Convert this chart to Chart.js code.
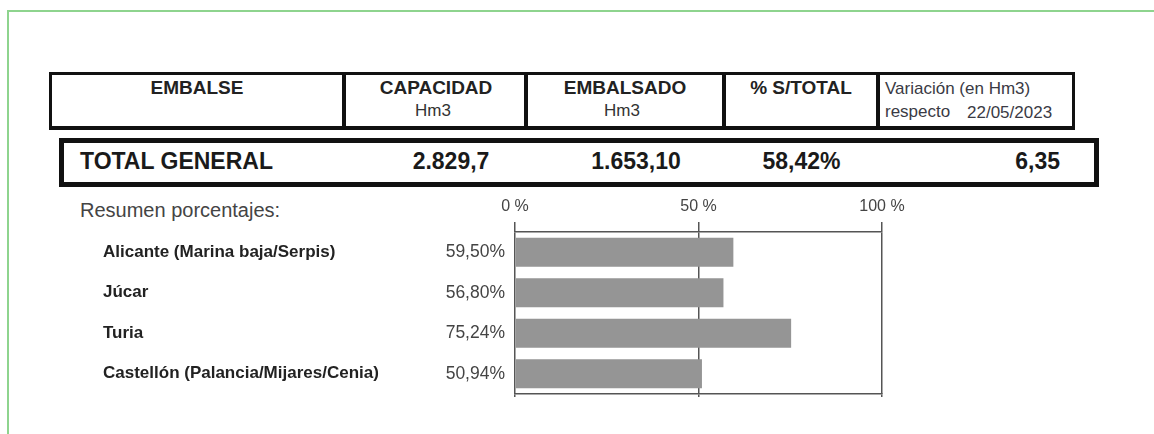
<!DOCTYPE html>
<html>
<head>
<meta charset="utf-8">
<script src="https://cdn.jsdelivr.net/npm/chart.js@4/dist/chart.umd.min.js"></script>
<style>
  html, body { margin:0; padding:0; background:#fff; width:1154px; height:434px; overflow:hidden; }
  body { position:relative; font-family:"Liberation Sans", Arial, sans-serif; color:#222; }
  .abs { position:absolute; white-space:nowrap; }
  .frame { position:absolute; left:7px; top:10px; width:1200px; height:500px; border-top:2px solid #8ed48e; border-left:2px solid #8ed48e; }
  .box { position:absolute; box-sizing:border-box; border:3px solid #111; }
  .div { position:absolute; background:#111; }
  .h { font-weight:bold; font-size:19px; line-height:22.8px; color:#222; transform:translateX(-50%); }
  .u { font-size:17px; line-height:20.4px; color:#333; transform:translateX(-50%); }
  .v { font-size:17px; line-height:20.4px; color:#3a3a44; }
  .t { font-weight:bold; font-size:23px; line-height:27.6px; color:#1a1a1a; }
  .c { transform:translateX(-50%); }
  #chartWrap { position:absolute; left:0; top:190px; width:1154px; height:230px; }
</style>
</head>
<body>
<div class="frame"></div>

<!-- header table -->
<div class="box" style="left:49px; top:72px; width:1026px; height:58px; border-bottom-width:4px;"></div>
<div class="div" style="left:342px; top:72px; width:4px; height:58px;"></div>
<div class="div" style="left:524px; top:72px; width:4px; height:58px;"></div>
<div class="div" style="left:722px; top:72px; width:4px; height:58px;"></div>
<div class="div" style="left:876px; top:72px; width:4px; height:58px;"></div>

<div class="abs h" style="left:197px; top:76.6px;">EMBALSE</div>
<div class="abs h" style="left:436px; top:76.6px;">CAPACIDAD</div>
<div class="abs u" style="left:433px; top:101.3px;">Hm3</div>
<div class="abs h" style="left:625px; top:76.6px;">EMBALSADO</div>
<div class="abs u" style="left:622px; top:101.3px;">Hm3</div>
<div class="abs h" style="left:801px; top:76.6px;">% S/TOTAL</div>
<div class="abs v" style="left:885px; top:78.5px;">Variación (en Hm3)</div>
<div class="abs v" style="left:885px; top:101.5px;">respecto</div>
<div class="abs v" style="left:967px; top:103px;">22/05/2023</div>

<!-- total row -->
<div class="box" style="left:59px; top:138px; width:1040px; height:49px; border-width:5px;"></div>
<div class="abs t" style="left:80px; top:147.7px;">TOTAL GENERAL</div>
<div class="abs t c" style="left:451px; top:147.7px;">2.829,7</div>
<div class="abs t c" style="left:636px; top:147.7px;">1.653,10</div>
<div class="abs t c" style="left:801.5px; top:147.7px;">58,42%</div>
<div class="abs t" style="right:94px; top:147.7px;">6,35</div>

<div class="abs" style="left:80px; top:198px; font-size:20px; line-height:24px; color:#444;">Resumen porcentajes:</div>

<div id="chartWrap"><canvas id="c" width="1154" height="230"></canvas></div>

<script>
const categories = ['Alicante (Marina baja/Serpis)', 'Júcar', 'Turia', 'Castellón (Palancia/Mijares/Cenia)'];
const percentages = [59.50, 56.80, 75.24, 50.94];
const axisMin = 0;
const axisMax = 100;
const axisStep = 50;

function fmtPct(v) { return v.toFixed(2).replace('.', ',') + '%'; }

const valueLabels = {
  id: 'valueLabels',
  afterDatasetsDraw(chart) {
    const ctx = chart.ctx;
    const meta = chart.getDatasetMeta(0);
    ctx.save();
    ctx.font = '17.5px "Liberation Sans", Arial, sans-serif';
    ctx.fillStyle = '#444';
    ctx.textAlign = 'right';
    ctx.textBaseline = 'middle';
    meta.data.forEach((el, i) => {
      ctx.fillText(fmtPct(percentages[i]), chart.chartArea.left - 10, el.y);
    });
    ctx.restore();
  }
};

new Chart(document.getElementById('c'), {
  type: 'bar',
  data: {
    labels: categories,
    datasets: [{
      data: percentages,
      backgroundColor: '#959595',
      borderWidth: 0,
      categoryPercentage: 1,
      barPercentage: 0.716
    }]
  },
  options: {
    indexAxis: 'y',
    responsive: false,
    animation: false,
    devicePixelRatio: 1,
    layout: { padding: { left: 103, right: 272, top: 0, bottom: 0 } },
    plugins: { legend: { display: false }, tooltip: { enabled: false } },
    scales: {
      x: {
        position: 'top',
        min: axisMin, max: axisMax,
        afterFit(s) { s.height = 42; },
        ticks: {
          stepSize: axisStep,
          padding: 6,
          color: '#444',
          font: { family: '"Liberation Sans", Arial, sans-serif', size: 16 },
          callback: v => v + ' %'
        },
        grid: { color: '#555', lineWidth: 1.5, tickLength: 10, drawOnChartArea: true },
        border: { display: true, color: '#555', width: 1.5 }
      },
      xb: {
        axis: 'x',
        position: 'bottom',
        min: axisMin, max: axisMax,
        afterFit(s) { s.height = 26; },
        ticks: { stepSize: axisStep, display: false },
        grid: { color: '#555', lineWidth: 1.5, tickLength: 3, drawOnChartArea: false },
        border: { display: true, color: '#555', width: 1.5 }
      },
      y: {
        afterFit(s) { s.width = 412; },
        ticks: {
          crossAlign: 'far',
          padding: 0,
          color: '#222',
          font: { family: '"Liberation Sans", Arial, sans-serif', size: 17, weight: 'bold' }
        },
        grid: { display: false },
        border: { display: false }
      }
    }
  },
  plugins: [valueLabels]
});
</script>
</body>
</html>
